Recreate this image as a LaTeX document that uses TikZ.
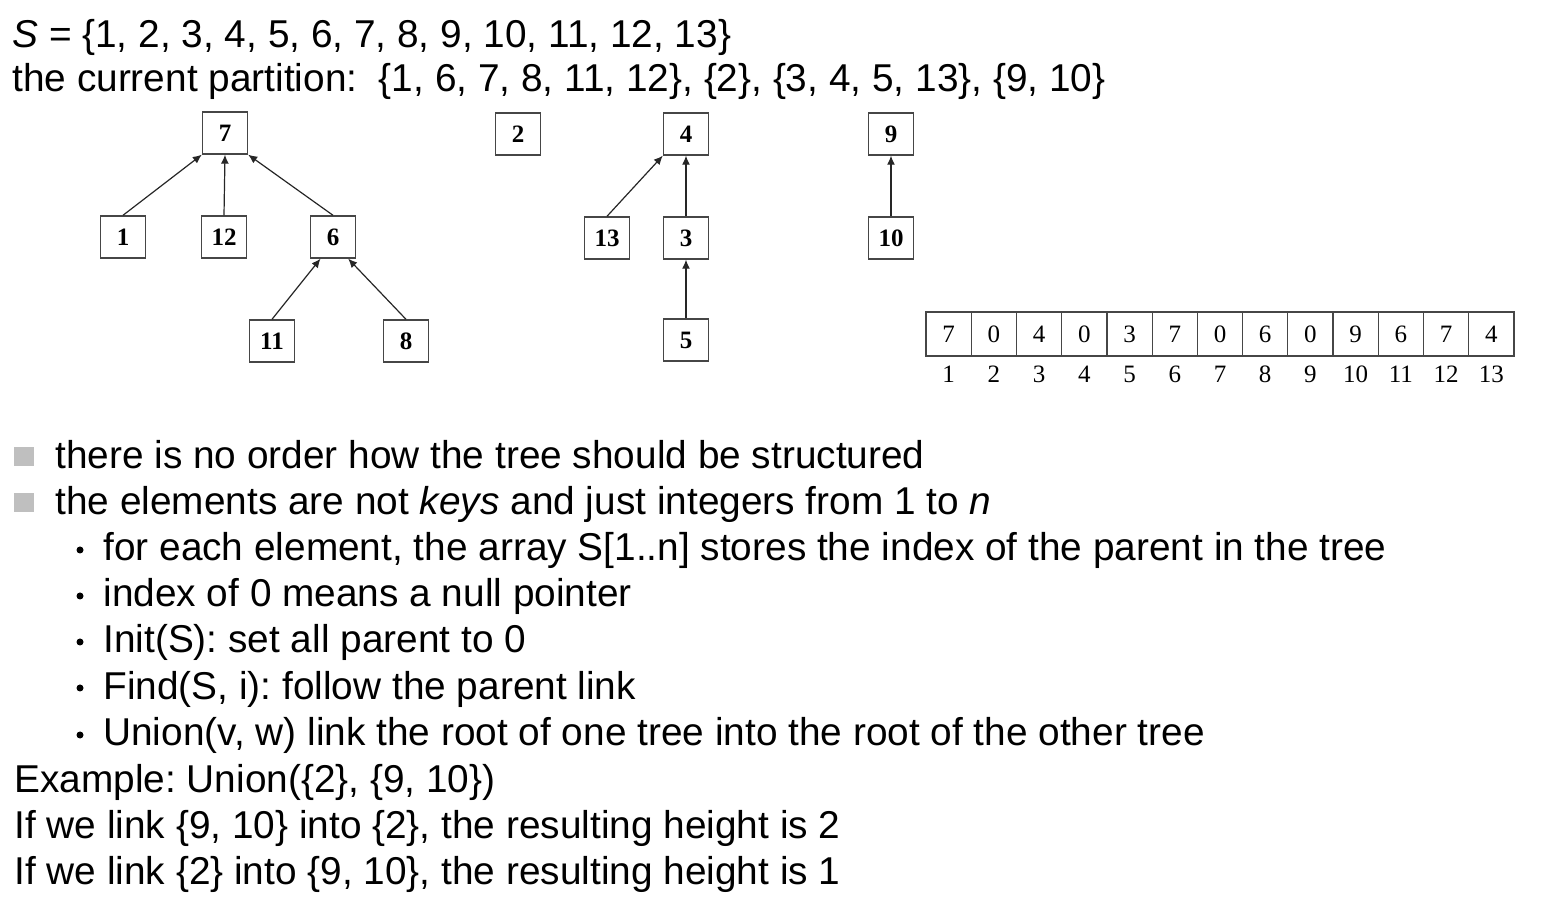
\documentclass[tikz,border=0pt]{standalone}
\usepackage{fontspec}
\setmainfont{Liberation Sans}
\newfontfamily\boxfont{Liberation Serif}
\usepackage{xcolor}
\usepackage{tikz}
\usetikzlibrary{arrows.meta}
\definecolor{lgray}{RGB}{191, 191, 191}
\definecolor{dgray}{RGB}{70, 70, 70}
\frenchspacing

\begin{document}
\begin{tikzpicture}[x = 0.5pt, y = -0.5pt,
		vert/.style = {draw = dgray, line width = 0.7pt, minimum width = 22.5pt, minimum height = 21pt, inner sep = 0pt, font = \boxfont\bfseries\fontsize{12.5}{12.5}\selectfont},
		cell/.style = {draw = dgray, line width = 0.6pt, minimum width = 22.6pt, minimum height = 22pt, inner sep = 0pt, font = \boxfont\fontsize{12.5}{12.5}\selectfont},
		idx/.style = {anchor = base, inner sep = 0pt, font = \boxfont\fontsize{12.5}{12.5}\selectfont},
		arr/.style = {draw = black!85, line width = 0.6pt, -{Latex[length = 4.5pt, width = 4pt]}},
		txt/.style = {anchor = base west, inner sep = 0pt, font = \fontsize{19.4}{23}\selectfont},
		sq/.style = {fill = lgray, minimum width = 10pt, minimum height = 9.5pt, inner sep = 0pt},
		dot/.style = {circle, fill = black, minimum size = 3.5pt, inner sep = 0pt}]
		\useasboundingbox (0,0) rectangle (1564,924);
		% header
		\node (s) at (12,48) [txt] {\textit{S} = \{1, 2, 3, 4, 5, 6, 7, 8, 9, 10, 11, 12, 13\}};
		\node (p) at (12,92) [txt] {the current partition:~ \{1, 6, 7, 8, 11, 12\}, \{2\}, \{3, 4, 5, 13\}, \{9, 10\}};
		% trees
		\node (t7) at (225,133) [vert] {7};
		\node (t1) at (123,237) [vert] {1};
		\node (t12) at (224,237) [vert] {12};
		\node (t6) at (333,237) [vert] {6};
		\node (t11) at (272,341) [vert] {11};
		\node (t8) at (406,341) [vert] {8};
		\node (t2) at (518,134) [vert] {2};
		\node (t4) at (686,134) [vert] {4};
		\node (t13) at (607,238) [vert] {13};
		\node (t3) at (686,238) [vert] {3};
		\node (t5) at (686,340) [vert] {5};
		\node (t9) at (891,134) [vert] {9};
		\node (t10) at (891,238) [vert] {10};
		\draw[arr] (t1.north) -- (t7.south west);
		\draw[arr] (t12.north) -- (t7.south);
		\draw[arr] (t6.north) -- (t7.south east);
		\draw[arr] (t11.north) -- (t6.-120);
		\draw[arr] (t8.north) -- (t6.-55);
		\draw[arr] (t13.north) -- (t4.south west);
		\draw[arr] (t3.north) -- (t4.south);
		\draw[arr] (t5.north) -- (t3.south);
		\draw[arr] (t10.north) -- (t9.south);
		% parent array
		\foreach \v [count = \i] in {7,0,4,0,3,7,0,6,0,9,6,7,4} {
			\node (c\i) at ({926+45.23*(\i-0.5)},334) [cell] {\v};
			\node (i\i) at ({926+45.23*(\i-0.5)},383) [idx] {\i};
		}
		% bullets
		\node (b1) at (23.5,457) [sq] {};
		\node (b2) at (23.5,503) [sq] {};
		\node (l1) at (55,469) [txt] {there is no order how the tree should be structured};
		\node (l2) at (55,515) [txt] {the elements are not \textit{keys} and just integers from 1 to \textit{n}};
		\node (d1) at (80,550) [dot] {};
		\node (d2) at (80,596) [dot] {};
		\node (d3) at (80,642) [dot] {};
		\node (d4) at (80,688) [dot] {};
		\node (d5) at (80,735) [dot] {};
		\node (l3) at (103,561) [txt] {for each element, the array S[1..n] stores the index of the parent in the tree};
		\node (l4) at (103,607) [txt] {index of 0 means a null pointer};
		\node (l5) at (103,653) [txt] {Init(S): set all parent to 0};
		\node (l6) at (103,699) [txt] {Find(S, i): follow the parent link};
		\node (l7) at (103,746) [txt] {Union(v, w) link the root of one tree into the root of the other tree};
		\node (l8) at (14,792) [txt] {Example: Union(\{2\}, \{9, 10\})};
		\node (l9) at (14,838) [txt] {If we link \{9, 10\} into \{2\}, the resulting height is 2};
		\node (l10) at (14,884) [txt] {If we link \{2\} into \{9, 10\}, the resulting height is 1};
\end{tikzpicture}
\end{document}
